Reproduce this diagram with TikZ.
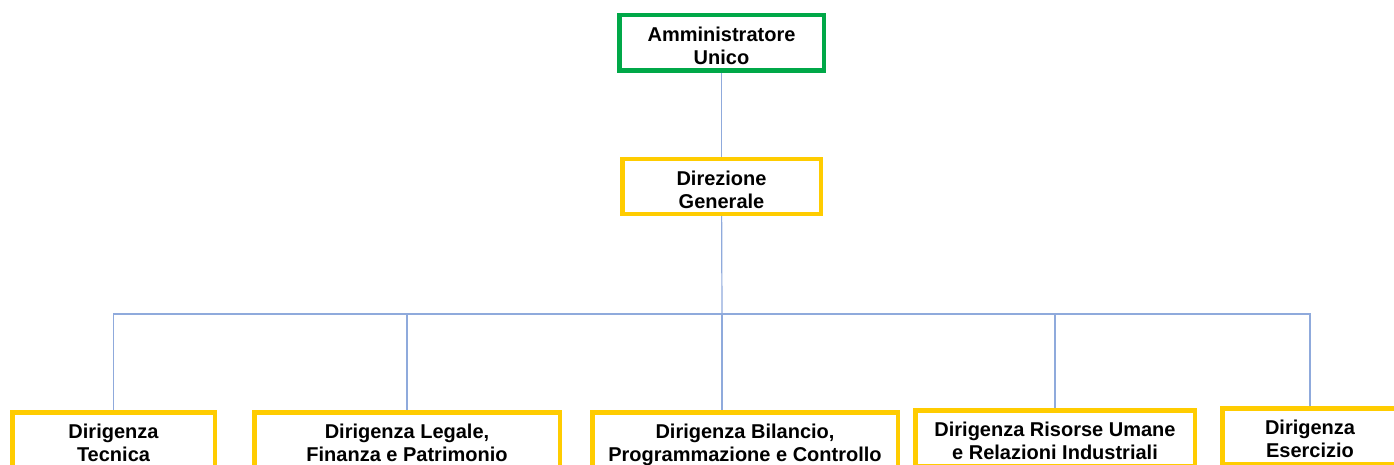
\documentclass[tikz,border=0pt]{standalone}
\usepackage{fontspec}
\setmainfont{Liberation Sans}
\definecolor{orgline}{RGB}{143,170,220}
\definecolor{orggreen}{RGB}{0,168,72}
\definecolor{orgyellow}{RGB}{255,204,0}
\begin{document}
\begin{tikzpicture}[x=1pt, y=-1pt]
 \clip (0,0) rectangle (1394,465);
 \fill[white] (0,0) rectangle (1394,465);
 \begin{scope}[every node/.append style={rectangle, draw=orgyellow, line width=4.5pt, fill=white, align=center, inner sep=2pt, text height=43pt, text depth=0pt, minimum height=55.5pt, font=\fontsize{20}{23}\selectfont\bfseries}]
    \node[draw=orggreen, minimum width=204.5pt] (adm) at (721.5,43) {Amministratore\\Unico};
    \node[minimum width=198.5pt, minimum height=54.5pt] (dg) at (721.5,186.5) {Direzione\\Generale};

    \node[minimum width=202.5pt] (tec) at (113.5,440) {Dirigenza\\Tecnica};
    \node[minimum width=305.5pt] (leg) at (407,440) {Dirigenza Legale,\\Finanza e Patrimonio};
    \node[minimum width=305.5pt] (bil) at (745,440) {Dirigenza Bilancio,\\Programmazione e Controllo};
    \node[minimum width=279.5pt] (ris) at (1055,438) {Dirigenza Risorse Umane\\e Relazioni Industriali};
    \node[minimum width=175.5pt] (ese) at (1310,436) {Dirigenza\\Esercizio};
 \end{scope}

 \coordinate (bus) at (722,314);
 \begin{scope}[every path/.style={draw=orgline, line width=1.2pt}]
    \draw (adm) -- (dg);
    \draw (dg) -- (bus);
    \draw (bus) -| (tec.north);
    \draw (bus) -| (leg.north);
    \draw (bus) -- (bus |- bil.north);
    \draw (bus) -| (ris.north);
    \draw (bus) -| (ese.north);
 \end{scope}
\end{tikzpicture}
\end{document}
